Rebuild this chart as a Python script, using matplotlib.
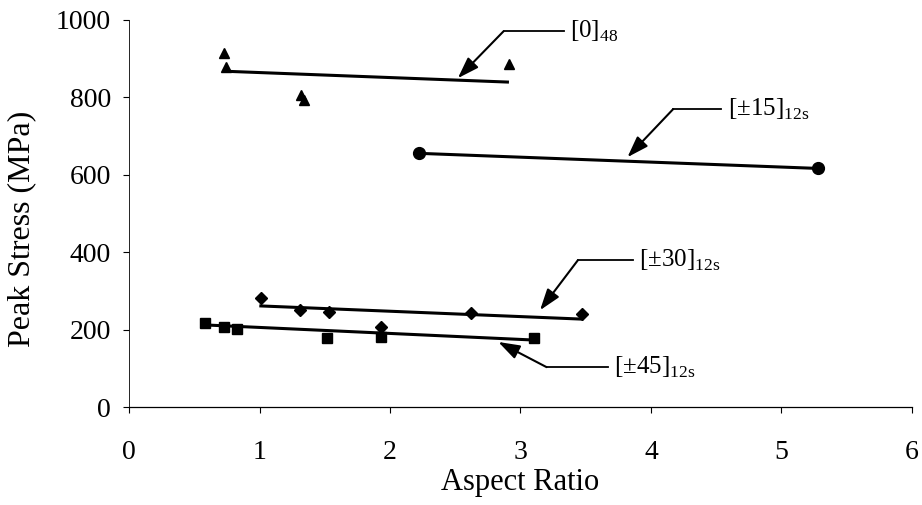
import numpy as np
import matplotlib
matplotlib.use("Agg")
import matplotlib.pyplot as plt

plt.rcParams['font.family'] = ['Liberation Serif', 'DejaVu Serif']
plt.rcParams['mathtext.fontset'] = 'custom'
plt.rcParams['mathtext.rm'] = 'Liberation Serif'

ar_0 = [0.73, 0.74, 1.32, 1.34, 2.91]
ps_0 = [915, 877, 805, 792, 886]
ar_15 = [2.22, 5.28]
ps_15 = [655, 616]
ar_30 = [1.01, 1.31, 1.53, 1.93, 2.62, 3.47]
ps_30 = [281, 250, 245, 207, 242, 240]
ar_45 = [0.58, 0.73, 0.83, 1.52, 1.93, 3.10]
ps_45 = [216, 206, 201, 179, 182, 179]

# trend line end points
fit_0_x, fit_0_y = [0.73, 2.90], [867, 839]
fit_15_x, fit_15_y = [2.22, 5.28], [655, 616]
fit_30_x, fit_30_y = [1.01, 3.47], [261, 227]
fit_45_x, fit_45_y = [0.58, 3.10], [212, 173]

labels = [r'[0]$_{\mathregular{48}}$', r'[±15]$_{\mathregular{12s}}$',
          r'[±30]$_{\mathregular{12s}}$', r'[±45]$_{\mathregular{12s}}$']
# (arrow tip, elbow, line end) for each label
tips = [(2.52, 849), (3.82, 645), (3.15, 250), (2.83, 168)]
elbows = [(2.87, 970), (4.17, 769), (3.44, 379), (3.20, 103)]
ends = [(3.33, 970), (4.54, 769), (3.86, 379), (3.67, 103)]

fig = plt.figure(figsize=(9.22, 5.05), dpi=100)
ax = fig.add_axes([0.140, 0.194, 0.849, 0.767])

lw = 2.2
ax.plot(ar_0, ps_0, '^', color='black', ms=7)
ax.plot(fit_0_x, fit_0_y, '-', color='black', lw=lw)
ax.plot(ar_15, ps_15, 'o', color='black', ms=8.5)
ax.plot(fit_15_x, fit_15_y, '-', color='black', lw=lw)
ax.plot(ar_30, ps_30, 'D', color='black', ms=6)
ax.plot(fit_30_x, fit_30_y, '-', color='black', lw=lw)
ax.plot(ar_45, ps_45, 's', color='black', ms=6.5)
ax.plot(fit_45_x, fit_45_y, '-', color='black', lw=lw)

for lab, tip, elb, end in zip(labels, tips, elbows, ends):
    ax.plot([elb[0], end[0]], [elb[1], end[1]], color='black', lw=1.3)
    ax.annotate('', xy=tip, xytext=elb,
                arrowprops=dict(arrowstyle='-|>,head_length=0.65,head_width=0.22',
                                color='black', lw=1.5,
                                mutation_scale=20, shrinkA=0, shrinkB=0))
    ax.text(end[0] + 0.05, end[1], lab, fontsize=18, va='center', ha='left')

ax.set_xlim(0, 6)
ax.set_ylim(0, 1000)
ax.set_xticks(np.arange(0, 7, 1))
ax.set_yticks(np.arange(0, 1001, 200))
ax.tick_params(labelsize=20, length=4, width=0.8, direction='out')
ax.tick_params(axis='x', pad=20)
ax.tick_params(axis='y', pad=9)
ax.spines['top'].set_visible(False)
ax.spines['right'].set_visible(False)
ax.spines['left'].set_linewidth(0.6)
ax.spines['bottom'].set_linewidth(0.9)
ax.set_xlabel('Aspect Ratio', fontsize=22)
ax.set_ylabel('Peak Stress (MPa)', fontsize=23)
ax.xaxis.set_label_coords(0.50, -0.158)
ax.yaxis.set_label_coords(-0.118, 0.46)

fig.savefig('out.png', dpi=100)
